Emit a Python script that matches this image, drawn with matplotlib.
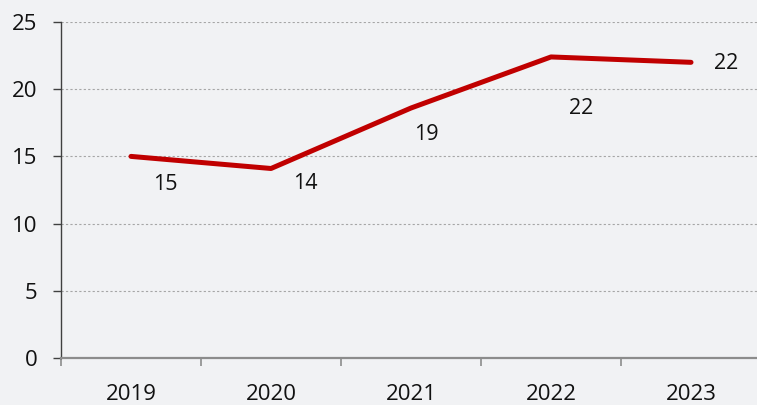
import matplotlib
matplotlib.use('Agg')
import matplotlib.pyplot as plt
from matplotlib.ticker import FixedLocator, NullFormatter

plt.rcParams['font.family'] = ['Open Sans', 'DejaVu Sans']

years = ['2019', '2020', '2021', '2022', '2023']
values = [15.0, 14.1, 18.6, 22.4, 22.0]
labels = ['15', '14', '19', '22', '22']
# label offsets in points (dx, dy)
offsets = [(25, -20), (25, -11), (11, -19), (22, -37), (25, -1)]

bg = '#f1f2f4'
fig = plt.figure(figsize=(7.57, 4.05), dpi=100, facecolor=bg)
ax = fig.add_axes([61 / 757, 47 / 405, 700 / 757, 336 / 405])
ax.set_facecolor(bg)

x = list(range(len(years)))
ax.plot(x, values, color='#c00000', lw=3.6, solid_capstyle='round',
        solid_joinstyle='round', zorder=3)

for xi, v, lab, (dx, dy) in zip(x, values, labels, offsets):
    ax.annotate(lab, (xi, v), xytext=(dx, dy), textcoords='offset points',
                ha='center', va='center', fontsize=15.5, color='#111111')

ax.set_xlim(-0.5, 4.5)
ax.set_ylim(0, 25)
ax.set_yticks([0, 5, 10, 15, 20, 25])
for yv in [5, 10, 15, 20, 25]:
    ax.axhline(yv, color='#a6a6a6', lw=0.8, ls=(0, (2, 2)), zorder=1)

# category ticks between years, labels centred on each year
ax.xaxis.set_major_locator(FixedLocator([-0.5, 0.5, 1.5, 2.5, 3.5, 4.5]))
ax.xaxis.set_major_formatter(NullFormatter())
ax.xaxis.set_minor_locator(FixedLocator(x))
ax.set_xticklabels(years, minor=True)
ax.tick_params(axis='x', which='major', length=6, width=1.2, color='#8c8c8c', direction='out')
ax.tick_params(axis='x', which='minor', length=0, pad=19, labelsize=16, labelcolor='#111111')
ax.tick_params(axis='y', length=6, width=1.0, color='#404040', pad=11, labelsize=16, labelcolor='#111111')

for side in ['top', 'right']:
    ax.spines[side].set_visible(False)
ax.spines['left'].set_color('#404040')
ax.spines['left'].set_linewidth(1.0)
ax.spines['bottom'].set_color('#8c8c8c')
ax.spines['bottom'].set_linewidth(1.6)

fig.savefig('out.png', dpi=100, facecolor=bg)
